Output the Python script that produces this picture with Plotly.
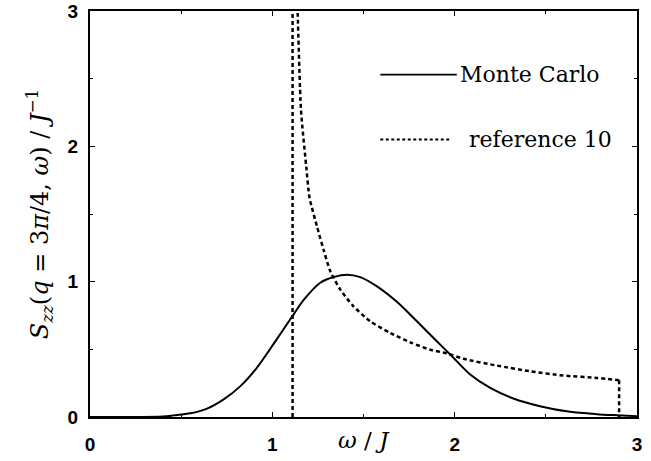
import plotly.graph_objects as go

# Monte Carlo estimate of S_zz(q=3pi/4, omega)
mc_omega = [0.0, 0.2, 0.40, 0.459, 0.551, 0.642, 0.733, 0.825, 0.916, 1.007, 1.110,
            1.172, 1.263, 1.336, 1.409, 1.482, 1.574, 1.683, 1.793, 1.902, 1.985,
            2.085, 2.195, 2.322, 2.468, 2.633, 2.779, 2.889, 3.0]
mc_s = [0.0, 0.0, 0.004, 0.012, 0.027, 0.062, 0.130, 0.228, 0.365, 0.540, 0.745,
        0.865, 0.992, 1.034, 1.052, 1.034, 0.965, 0.851, 0.707, 0.560, 0.449,
        0.314, 0.215, 0.137, 0.080, 0.038, 0.021, 0.013, 0.006]

# Continuum of reference 10: lower edge, decaying branch, upper edge
edge_omega = [1.111, 1.111]
edge_s = [0.0, 3.4]
ref_omega = [1.128, 1.139, 1.157, 1.186, 1.204, 1.245, 1.281,
             1.318, 1.373, 1.445, 1.537, 1.647, 1.756, 1.866, 1.957, 2.048, 2.231,
             2.414, 2.596, 2.779, 2.902]
ref_s = [3.4, 2.98, 2.27, 1.85, 1.62, 1.408, 1.236,
         1.076, 0.941, 0.818, 0.707, 0.621, 0.552, 0.497, 0.470, 0.430, 0.380,
         0.338, 0.306, 0.289, 0.272]
upper_omega = [2.902, 2.902]
upper_s = [0.272, 0.0]

x_ticks = [0, 1, 2, 3]
y_ticks = [0, 1, 2, 3]
legend_names = ["Monte Carlo", "reference 10"]

serif = "DejaVu Serif"
dash_style = dict(color="black", width=2.5, dash="4px,3px")

fig = go.Figure()
fig.add_trace(go.Scatter(x=mc_omega, y=mc_s, mode="lines",
                         line=dict(color="black", width=2, shape="spline", smoothing=0.8),
                         name=legend_names[0]))
fig.add_trace(go.Scatter(x=edge_omega, y=edge_s, mode="lines", line=dash_style,
                         name=legend_names[1]))
fig.add_trace(go.Scatter(x=ref_omega, y=ref_s, mode="lines",
                         line=dict(dash_style, shape="spline", smoothing=0.6),
                         name=legend_names[1]))
fig.add_trace(go.Scatter(x=upper_omega, y=upper_s, mode="lines", line=dash_style,
                         name=legend_names[1]))

# Hand-placed key inside the frame
key_rows = [(2.53, "solid", legend_names[0]), (2.05, "3px,2.5px", legend_names[1])]
for yk, dash, label in key_rows:
    x1 = 2.012 if dash == "solid" else 1.97
    fig.add_shape(type="line", x0=1.592, x1=x1, y0=yk, y1=yk,
                  line=dict(color="black", width=1.6 if dash == "solid" else 2, dash=dash))
    fig.add_annotation(x=x1 + (0.004 if dash == "solid" else 0.1), y=yk, text=label,
                       showarrow=False, xanchor="left", yanchor="middle",
                       font=dict(family=serif, size=22, color="black"))

axis_common = dict(
    showline=True, linecolor="black", linewidth=2, mirror="ticks",
    ticks="inside", ticklen=5, tickwidth=1, tickcolor="black",
    showgrid=False, zeroline=False, automargin=False,
    tickfont=dict(family="Liberation Sans", size=19, color="black", weight="bold"),
    minor=dict(ticks="inside", ticklen=3, tickwidth=1, tickcolor="black", dtick=0.5),
)

fig.update_xaxes(range=[0, 3], tickvals=x_ticks, ticktext=[str(v) for v in x_ticks],
                 ticklabelstandoff=9, **axis_common)
fig.update_yaxes(range=[0, 3], tickvals=y_ticks, ticktext=[str(v) for v in y_ticks],
                 ticklabelstandoff=6,
                 title=dict(text="<i>S</i><sub><i>zz</i></sub>(<i>q</i> = 3<i>π</i>/4, <i>ω</i>) / <i>J</i><sup>−1</sup>",
                            standoff=12,
                            font=dict(family=serif, size=24, color="black")),
                 **axis_common)

# x-axis title sits between the tick labels
fig.add_annotation(x=0.5, y=-0.056, xref="paper", yref="paper", text="<i>ω</i> / <i>J</i>",
                   showarrow=False, xanchor="center", yanchor="middle",
                   font=dict(family=serif, size=23, color="black"))

fig.update_layout(
    width=651, height=461,
    margin=dict(l=90, r=14, t=11, b=44),
    paper_bgcolor="white", plot_bgcolor="white",
    showlegend=False,
)

fig.write_html("out.html")
